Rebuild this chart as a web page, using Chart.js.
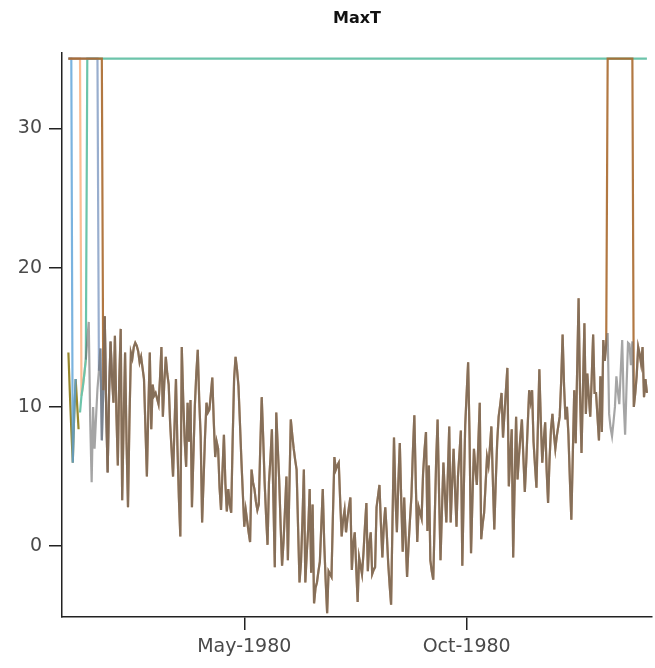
<!DOCTYPE html>
<html>
<head>
<meta charset="utf-8">
<title>MaxT</title>
<script src="https://cdn.jsdelivr.net/npm/chart.js@4.4.1/dist/chart.umd.min.js"></script>
<style>
    body { margin: 0; background: #fff; }
    canvas { display: block; }
</style>
</head>
<body>
<canvas id="chart" width="655" height="668"></canvas>
<script>
// daily max temperature, day 0 = 1 Jan 1980
const maxT = [
    13.9, 11.0, 8.4, 6.0, 9.5, 12.0, 10.2, 8.4, 9.6, 10.8,
    11.5, 12.4, 13.4, 14.8, 16.1, 9.0, 4.6, 10.0, 7.0, 9.2,
    11.3, 12.6, 14.2, 7.6, 11.2, 16.5, 9.8, 5.3, 11.0, 14.7,
    12.1, 10.3, 15.1, 9.6, 5.8, 12.0, 15.6, 3.3, 8.9, 13.9,
    7.5, 2.8, 9.0, 13.9, 13.5, 14.3, 14.6, 14.4, 14.0, 13.2,
    13.6, 12.8, 12.0, 8.5, 5.0, 9.8, 13.9, 8.4, 11.6, 10.8,
    11.0, 10.6, 10.2, 12.0, 14.3, 9.3, 11.8, 13.6, 12.4, 11.6,
    8.8, 6.9, 5.0, 8.6, 12.0, 7.2, 3.5, 0.7, 14.3, 10.5,
    7.6, 5.7, 10.3, 7.5, 10.5, 2.8, 6.5, 10.1, 12.4, 14.1,
    10.5, 7.9, 1.7, 4.8, 7.9, 10.3, 9.6, 9.8, 10.9, 12.1,
    9.0, 6.4, 7.5, 7.0, 4.2, 2.6, 5.4, 8.0, 4.5, 2.5,
    4.1, 3.0, 2.4, 7.6, 12.0, 13.6, 12.7, 11.5, 8.9, 6.2,
    3.8, 1.4, 2.6, 1.8, 1.0, 0.3, 5.5, 4.6, 4.1, 3.2,
    2.6, 3.0, 7.1, 10.7, 7.8, 4.6, 2.2, 0.1, 4.6, 6.3,
    8.4, 3.5, -1.5, 9.6, 7.2, 4.8, 1.5, -1.4, 0.3, 2.6,
    5.0, -1.0, 4.0, 9.1, 8.0, 7.0, 6.2, 5.5, 1.4, -2.6,
    -1.2, 1.8, 5.5, -2.6, -0.5, 1.3, 4.1, -1.9, 3.0, -4.1,
    -3.0, -2.6, -1.8, -1.1, 1.5, 4.1, 0.2, -2.5, -4.8, -1.8,
    -2.0, -2.2, 2.3, 6.4, 5.5, 5.8, 6.0, 3.2, 0.7, 1.9,
    2.6, 1.0, 2.0, 2.8, 3.5, -1.7, 0.2, 1.0, -1.5, -4.0,
    -0.8, -1.4, -2.0, -0.5, 1.4, 3.1, -1.8, 0.2, 1.0, -2.0,
    -1.7, -1.5, 2.8, 3.6, 4.4, 1.6, -0.8, 1.5, 2.8, 1.0,
    -1.2, -2.8, -4.2, 2.0, 7.8, 3.5, 1.0, 4.6, 7.4, 3.2,
    -0.4, 3.5, 0.6, -2.2, 0.1, 1.9, 3.6, 6.8, 9.4, 4.5,
    0.3, 2.8, 2.4, 2.0, 5.2, 6.9, 8.2, 1.1, 5.8, -1.0,
    -1.8, -2.4, 1.9, 6.1, 9.1, 3.8, -1.0, 2.6, 6.0, 3.8,
    1.7, 5.0, 8.6, 1.7, 4.5, 7.0, 4.1, 1.4, 5.0, 6.6,
    8.3, -1.4, 4.0, 8.7, 11.0, 13.2, 7.8, -0.5, 3.5, 7.0,
    5.6, 4.4, 7.4, 10.3, 0.5, 1.6, 2.4, 4.4, 6.4, 5.8,
    7.1, 8.6, 4.8, 1.2, 4.6, 7.5, 9.3, 10.1, 11.0, 7.8,
    9.5, 11.2, 12.8, 4.3, 6.5, 8.4, -0.8, 4.5, 9.3, 4.8,
    6.5, 7.9, 9.1, 6.4, 3.9, 6.1, 8.7, 11.2, 10.4, 11.2,
    7.5, 5.8, 4.2, 8.6, 12.7, 9.0, 6.0, 7.6, 8.9, 5.5,
    3.1, 6.2, 8.4, 9.5, 8.1, 7.0, 7.9, 8.6, 9.3, 11.8,
    15.2, 11.5, 9.1, 10.0, 8.0, 4.8, 1.9, 6.5, 11.2, 7.4,
    12.6, 17.8, 10.9, 6.7, 11.4, 16.0, 9.5, 12.4, 10.8, 9.3,
    12.0, 15.2, 11.0, 11.0, 9.3, 7.6, 12.2, 8.2, 14.8, 13.3,
    14.5, 15.3, 9.5, 8.5, 7.9, 8.9, 10.0, 12.2, 11.1, 10.2,
    12.6, 14.8, 10.4, 8.0, 11.5, 14.6, 14.5, 13.0, 14.7, 10.0,
    11.0, 12.3, 14.3, 13.8, 13.1, 14.3, 10.7, 12.0, 11.0
];

const capValue = 35;   // flat ceiling value some runs sit at

// spans per run: [firstDay, lastDay, 'obs' | 'cap']
const greySpans   = [[12, 398, 'obs']];
const brownSpans  = [[0, 23, 'cap'], [24, 370, 'obs'], [371, 388, 'cap'], [389, 398, 'obs']];
const slateSpans  = [[0, 20, 'cap'], [21, 30, 'obs']];
const greenSpans  = [[8, 12, 'obs'], [13, 398, 'cap']];
const orangeSpans = [[0, 8, 'cap'], [9, 12, 'obs']];
const blueSpans   = [[0, 2, 'cap'], [3, 5, 'obs']];
const oliveSpans  = [[0, 7, 'obs']];

const tickDays = [121, 274];
const tickLabels = ['May-1980', 'Oct-1980'];
const yTicks = [0, 10, 20, 30];

// drawn top first
const runs = [
    { spans: greySpans,   color: 'rgba(105,105,105,0.6)' },
    { spans: brownSpans,  color: 'rgba(170,105,45,0.9)' },
    { spans: slateSpans,  color: 'rgba(110,140,185,0.7)' },
    { spans: greenSpans,  color: 'rgb(108,196,170)' },
    { spans: orangeSpans, color: 'rgba(250,165,110,0.75)' },
    { spans: blueSpans,   color: 'rgba(90,160,215,0.8)' },
    { spans: oliveSpans,  color: 'rgb(150,135,45)' }
];

function buildPoints(spans) {
    const pts = [];
    spans.forEach(([a, b, kind]) => {
        for (let d = a; d <= b; d++) {
            pts.push({ x: d, y: kind === 'cap' ? capValue : maxT[d] });
        }
    });
    return pts;
}

const datasets = runs.map(r => ({
    data: buildPoints(r.spans),
    borderColor: r.color,
    borderWidth: 2.2,
    pointRadius: 0,
    tension: 0,
    fill: false
}));

const axisFont = { family: 'DejaVu Sans', size: 19 };

new Chart(document.getElementById('chart'), {
    type: 'line',
    data: { datasets },
    options: {
        responsive: false,
        animation: false,
        devicePixelRatio: 1,
        layout: { padding: { left: 0, right: 3, top: 0, bottom: 0 } },
        plugins: {
            legend: { display: false },
            tooltip: { enabled: false },
            title: {
                display: true,
                fullSize: false,
                text: 'MaxT',
                color: '#111',
                font: { family: 'DejaVu Sans', size: 16, weight: 'bold' },
                padding: { top: 9, bottom: 25 }
            }
        },
        scales: {
            x: {
                type: 'linear',
                min: -4.4,
                max: 401.5,
                afterBuildTicks: s => { s.ticks = tickDays.map(v => ({ value: v })); },
                afterFit: s => { s.height = 51; },
                ticks: {
                    color: '#4a4a4a',
                    font: axisFont,
                    padding: 6,
                    maxRotation: 0,
                    callback: v => tickLabels[tickDays.indexOf(v)]
                },
                grid: { display: true, drawOnChartArea: false, tickLength: 13, color: '#222', lineWidth: 1.5 },
                border: { display: true, color: '#222', width: 1.5 }
            },
            y: {
                type: 'linear',
                min: -5.08,
                max: 35.39,
                afterBuildTicks: s => { s.ticks = yTicks.map(v => ({ value: v })); },
                afterFit: s => { s.width = 62; },
                ticks: { color: '#4a4a4a', font: axisFont, padding: 7 },
                grid: { display: true, drawOnChartArea: false, tickLength: 13, color: '#222', lineWidth: 1.5 },
                border: { display: true, color: '#222', width: 1.5 }
            }
        }
    }
});
</script>
</body>
</html>
